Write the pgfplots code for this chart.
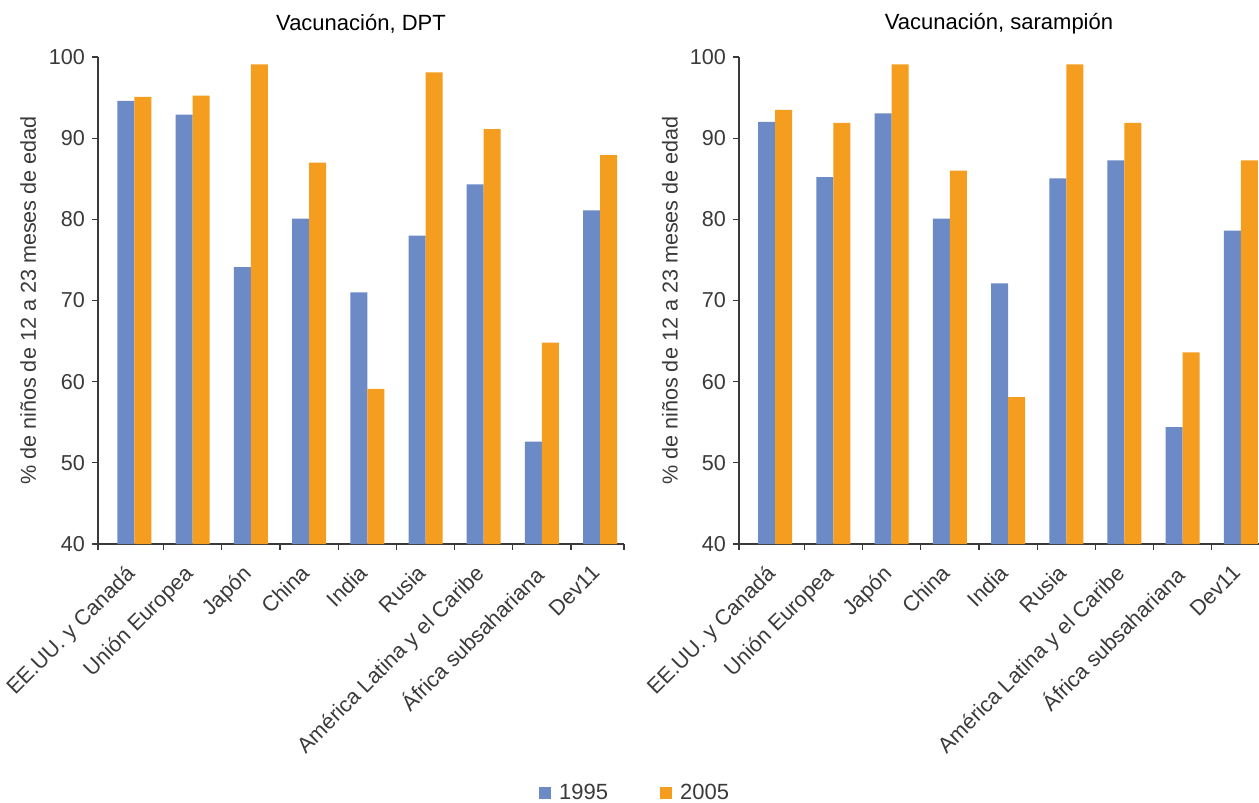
\documentclass[border=0pt]{standalone}
\usepackage{pgfplots}
\pgfplotsset{compat=1.18}
\usepackage{pgfplotstable}
\usepackage{fontspec}
\setmainfont{Liberation Sans}
\definecolor{bblue}{HTML}{6C8AC6}
\definecolor{borange}{HTML}{F59D1E}
\definecolor{txt}{HTML}{3A3A3A}

\pgfplotstableread{
x dpt95 dpt05 sar95 sar05
0 94.6 95.1 92.0 93.5
1 92.9 95.25 85.2 91.9
2 74.1 99.1 93.05 99.1
3 80.1 87.0 80.1 86.0
4 71.0 59.1 72.1 58.1
5 78.0 98.1 85.05 99.1
6 84.3 91.1 87.25 91.9
7 52.6 64.8 54.4 63.6
8 81.1 87.9 78.6 87.25
}\data

\pgfplotsset{
  mystyle/.style={
    ybar=0pt, bar width=8.5pt,
    scale only axis, height=243.5pt,
    ymin=40, ymax=100, ytick={40,50,...,100},
    axis x line=bottom, axis y line=left,
    axis line style={-, color=txt, line width=0.6pt},
    tick align=outside, major tick length=3pt,
    tick style={color=txt, line width=0.6pt},
    xticklabels={},
    /pgf/number format/assume math mode=true,
    yticklabel style={font=\fontsize{10.8}{13}\selectfont, text=txt},
    ylabel={\% de niños de 12 a 23 meses de edad},
    ylabel style={at={(axis description cs:-0.133,0.5)}, anchor=center, font=\fontsize{10.8}{13}\selectfont, text=txt},
    title style={at={(axis description cs:0.5,1)}, anchor=center, yshift=10.5pt, font=\fontsize{11}{13}\selectfont, text=black},
    extra x ticks={0,...,8},
    extra x tick labels={EE.UU. y Canadá, Unión Europea, Japón, China, India, Rusia, América Latina y el Caribe, África subsahariana, Dev11},
    extra x tick style={major tick length=0pt, tick label style={rotate=45, anchor=north east, xshift=-7pt, yshift=0pt, font=\fontsize{10.8}{13}\selectfont, text=txt}},
    legend image code/.code={\fill[#1] (0pt,-3pt) rectangle (6pt,3pt);},
  }
}

\begin{document}
\begin{tikzpicture}
\useasboundingbox (-49pt,-129.5pt) rectangle (580.5pt,272pt);
\begin{axis}[mystyle, width=263pt, xmin=-0.627, xmax=8.41,
  xtick={-0.627,0.5,1.5,...,7.5,8.41},
  title={Vacunación, DPT},
  legend columns=2,
  legend style={at={(axis description cs:1.023,-0.511)}, anchor=center, draw=none, fill=none,
    font=\fontsize{11}{13}\selectfont, text=txt,
    /tikz/every even column/.append style={column sep=24pt},
    /tikz/every odd column/.append style={column sep=2pt}},
]
\addplot[fill=bblue, draw=none] table[x=x, y=dpt95] {\data};
\addplot[fill=borange, draw=none] table[x=x, y=dpt05] {\data};
\legend{1995, 2005}
\end{axis}
\begin{axis}[mystyle, at={(320.5pt,0pt)}, width=260pt, xmin=-0.62, xmax=8.31,
  xtick={-0.62,0.5,1.5,...,7.5},
  title={Vacunación, sarampión},
]
\addplot[fill=bblue, draw=none] table[x=x, y=sar95] {\data};
\addplot[fill=borange, draw=none] table[x=x, y=sar05] {\data};
\end{axis}
\end{tikzpicture}
\end{document}
